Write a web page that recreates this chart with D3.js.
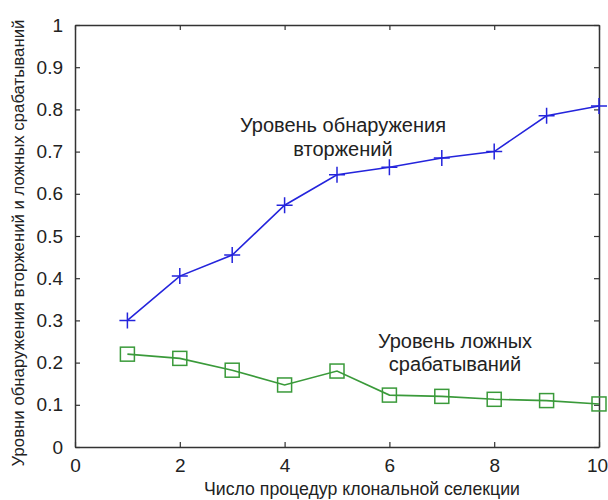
<!DOCTYPE html>
<html>
<head>
<meta charset="utf-8">
<script src="https://cdn.jsdelivr.net/npm/d3@7"></script>
<style>
  body { margin: 0; background: #fff; }
  text { font-family: "Liberation Sans", Arial, sans-serif; fill: #222; }
</style>
</head>
<body>
<div id="chart"></div>
<script>
// Данные графика
let xValues = [1, 2, 3, 4, 5, 6, 7, 8, 9, 10]
let detection = [0.30, 0.405, 0.455, 0.573, 0.645, 0.663, 0.685, 0.70, 0.785, 0.808]
let falseAlarms = [0.22, 0.21, 0.182, 0.147, 0.18, 0.123, 0.12, 0.113, 0.11, 0.102]
let xTicks = [0, 2, 4, 6, 8, 10]
let yTicks = [0, 0.1, 0.2, 0.3, 0.4, 0.5, 0.6, 0.7, 0.8, 0.9, 1]

let width = 608, height = 500
let plotLeft = 75, plotRight = 599, plotTop = 25, plotBottom = 447

let svg = d3.select("#chart").append("svg")
    .attr("width", width)
    .attr("height", height)

let x = d3.scaleLinear().domain([0, 10]).range([plotLeft, plotRight])
let y = d3.scaleLinear().domain([0, 1]).range([plotBottom, plotTop])

let tickLen = 5

// Оси (засечки внутрь со всех сторон)
svg.append("g")
    .attr("transform", `translate(0,${plotBottom})`)
    .call(d3.axisBottom(x).tickValues(xTicks).tickSizeInner(-tickLen).tickSizeOuter(0).tickPadding(12))
svg.append("g")
    .attr("transform", `translate(0,${plotTop})`)
    .call(d3.axisTop(x).tickValues(xTicks).tickSizeInner(-tickLen).tickSizeOuter(0).tickFormat(""))
svg.append("g")
    .attr("transform", `translate(${plotLeft},0)`)
    .call(d3.axisLeft(y).tickValues(yTicks).tickSizeInner(-tickLen).tickSizeOuter(0).tickPadding(12).tickFormat(d => String(d)))
svg.append("g")
    .attr("transform", `translate(${plotRight},0)`)
    .call(d3.axisRight(y).tickValues(yTicks).tickSizeInner(-tickLen).tickSizeOuter(0).tickFormat(""))

svg.selectAll(".domain").attr("stroke", "#333").attr("stroke-width", 1.5)
svg.selectAll(".tick line").attr("stroke", "#333").attr("stroke-width", 1.2)
svg.selectAll(".tick text").attr("font-size", 19).attr("fill", "#222")
  .attr("font-family", "'Liberation Sans', Arial, sans-serif")
// последняя подпись у самого края
svg.selectAll(".tick text").filter(d => d === 10).attr("dx", -2)

// Линии
let line = d3.line().x((d, i) => x(xValues[i])).y(d => y(d))

svg.append("path")
    .datum(detection)
    .attr("fill", "none")
    .attr("stroke", "#2424dc")
    .attr("stroke-width", 1.6)
    .attr("d", line)

svg.append("path")
    .datum(falseAlarms)
    .attr("fill", "none")
    .attr("stroke", "#3a9a3a")
    .attr("stroke-width", 1.6)
    .attr("d", line)

// Маркеры +
svg.append("g").selectAll("path").data(detection).enter().append("path")
    .attr("d", (d, i) => {
      let cx = x(xValues[i]), cy = y(d), s = 8
      return `M${cx - s},${cy}H${cx + s}M${cx},${cy - s}V${cy + s}`
    })
    .attr("stroke", "#2424dc")
    .attr("stroke-width", 1.5)

// Маркеры квадраты
svg.append("g").selectAll("rect").data(falseAlarms).enter().append("rect")
    .attr("x", (d, i) => x(xValues[i]) - 7)
    .attr("y", d => y(d) - 7)
    .attr("width", 14)
    .attr("height", 14)
    .attr("fill", "none")
    .attr("stroke", "#3a9a3a")
    .attr("stroke-width", 1.5)

// Подписи
let notes = svg.append("g").attr("font-size", 20).attr("text-anchor", "middle")
notes.append("text").attr("x", 343).attr("y", 132).text("Уровень обнаружения")
notes.append("text").attr("x", 343).attr("y", 156).text("вторжений")
notes.append("text").attr("x", 455).attr("y", 348).text("Уровень ложных")
notes.append("text").attr("x", 455).attr("y", 371).text("срабатываний")

// Заголовки осей
svg.append("text")
    .attr("transform", "translate(24,243) rotate(-90)")
    .attr("text-anchor", "middle")
    .attr("font-size", 16.8)
    .text("Уровни обнаружения вторжений и ложных срабатываний")

svg.append("text")
    .attr("x", 362)
    .attr("y", 495)
    .attr("text-anchor", "middle")
    .attr("font-size", 17.7)
    .text("Число процедур клональной селекции")
</script>
</body>
</html>
